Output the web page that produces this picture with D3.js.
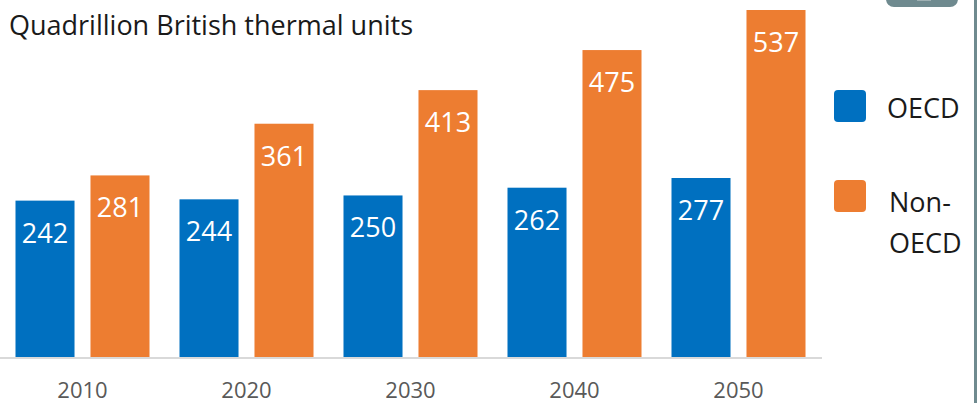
<!DOCTYPE html>
<html>
<head>
<meta charset="utf-8">
<script src="https://cdn.jsdelivr.net/npm/d3@7"></script>
<style>
  body { margin: 0; background: #fff; }
  text { font-family: "Open Sans", "Noto Sans", sans-serif; }
</style>
</head>
<body>
<div id="chart"></div>
<script>
var years = ["2010", "2020", "2030", "2040", "2050"];
var seriesNames = ["OECD", "Non-OECD"];
var oecd = [242, 244, 250, 262, 277];
var nonOecd = [281, 361, 413, 475, 537];
var colors = ["#0070c0", "#ed7d31"];

var data = years.map(function(y, i){
	return { year: y, values: [oecd[i], nonOecd[i]] };
});

var width = 979, height = 403;

var svg = d3.select("#chart").append("svg")
	.attr("width", width)
	.attr("height", height);

var x0 = d3.scaleBand()
	.domain(years)
	.range([0.5, 820.5]);

var x1 = d3.scaleBand()
	.domain([0, 1])
	.range([0, x0.bandwidth()])
	.paddingInner(0.213)
	.paddingOuter(0.2);

var y = d3.scaleLinear()
	.domain([0, 537])
	.range([357, 10]);

// title
svg.append("text")
	.attr("x", 9)
	.attr("y", 35)
	.attr("font-size", 27)
	.attr("fill", "#1a1a1a")
	.text("Quadrillion British thermal units");

var groups = svg.selectAll(".group").data(data)
	.enter().append("g")
		.attr("class", "group")
		.attr("transform", function(d){ return "translate(" + x0(d.year) + ",0)"; });

groups.selectAll("rect").data(function(d){ return d.values; })
	.enter().append("rect")
		.attr("x", function(d,i){ return x1(i); })
		.attr("width", x1.bandwidth())
		.attr("y", function(d){ return y(d); })
		.attr("height", function(d){ return y(0) - y(d); })
		.attr("fill", function(d,i){ return colors[i]; });

groups.selectAll(".val").data(function(d){ return d.values; })
	.enter().append("text")
		.attr("class", "val")
		.attr("x", function(d,i){ return x1(i) + x1.bandwidth() / 2; })
		.attr("y", function(d){ return y(d) + 42; })
		.attr("text-anchor", "middle")
		.attr("font-size", 27)
		.attr("fill", "#fff")
		.text(function(d){ return d; });

// baseline
svg.append("line")
	.attr("x1", 0)
	.attr("x2", 822)
	.attr("y1", y(0) + 1)
	.attr("y2", y(0) + 1)
	.attr("stroke", "#d9d9d9")
	.attr("stroke-width", 2);

// x axis labels
svg.selectAll(".tick-label").data(years)
	.enter().append("text")
		.attr("class", "tick-label")
		.attr("x", function(d){ return x0(d) + x0.bandwidth() / 2; })
		.attr("y", 398)
		.attr("text-anchor", "middle")
		.attr("font-size", 22)
		.attr("fill", "#595959")
		.text(function(d){ return d; });

// legend
var legend = svg.append("g").attr("class", "legend");
var legendY = [106, 196];

legend.selectAll("rect").data(seriesNames)
	.enter().append("rect")
		.attr("x", 834)
		.attr("y", function(d,i){ return legendY[i] - 16; })
		.attr("width", 32)
		.attr("height", 32)
		.attr("rx", 4)
		.attr("fill", function(d,i){ return colors[i]; });

legend.append("text")
	.attr("x", 887)
	.attr("y", 118)
	.attr("font-size", 27)
	.attr("fill", "#1a1a1a")
	.text("OECD");

legend.append("text")
	.attr("x", 889)
	.attr("y", 212)
	.attr("font-size", 27)
	.attr("fill", "#1a1a1a")
	.text("Non-");

legend.append("text")
	.attr("x", 889)
	.attr("y", 253)
	.attr("font-size", 27)
	.attr("fill", "#1a1a1a")
	.text("OECD");

// frame bits at right edge
svg.append("rect")
	.attr("x", 974)
	.attr("y", 0)
	.attr("width", 3)
	.attr("height", height)
	.attr("fill", "#6f8a8f");

svg.append("rect")
	.attr("x", 886)
	.attr("y", -20)
	.attr("width", 72)
	.attr("height", 27)
	.attr("rx", 8)
	.attr("fill", "#6f8a8f");

svg.append("rect")
	.attr("x", 917)
	.attr("y", -5)
	.attr("width", 14)
	.attr("height", 6)
	.attr("fill", "#9fb0b3");
</script>
</body>
</html>
